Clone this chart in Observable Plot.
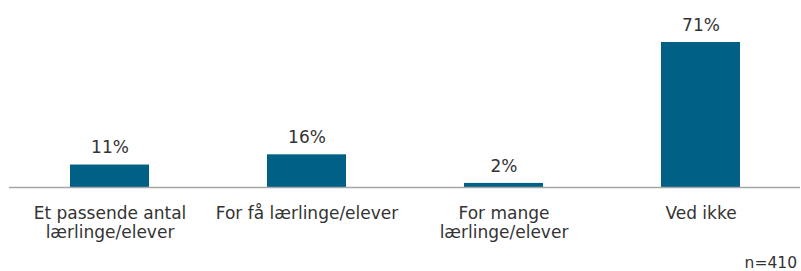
<!DOCTYPE html>
<html>
<head>
<meta charset="utf-8">
<script src="https://cdn.jsdelivr.net/npm/d3@7"></script>
<script src="https://cdn.jsdelivr.net/npm/@observablehq/plot@0.6"></script>
<style>
  html, body { margin: 0; padding: 0; background: #fff; }
  #wrap { position: relative; width: 801px; height: 271px; font-family: "DejaVu Sans", Verdana, sans-serif; }
  #caption { position: absolute; right: 4px; top: 254px; font-size: 15.5px; color: #333; }
</style>
</head>
<body>
<div id="wrap">
  <div id="chart"></div>
  <div id="caption">n=410</div>
</div>
<script>
const categories = ["Et passende antal lærlinge/elever", "For få lærlinge/elever", "For mange lærlinge/elever", "Ved ikke"];
const values = [11, 16, 2, 71];
const tickLabels = ["Et passende antal\nlærlinge/elever", "For få lærlinge/elever", "For mange\nlærlinge/elever", "Ved ikke"];

const data = categories.map((c, i) => ({category: c, value: values[i]}));
const labelOf = new Map(categories.map((c, i) => [c, tickLabels[i]]));

const chart = Plot.plot({
  width: 801,
  height: 248,
  marginLeft: 9,
  marginRight: 1,
  marginTop: 42,
  marginBottom: 61,
  style: { fontFamily: "DejaVu Sans, Verdana, sans-serif", fontSize: "17px", color: "#333", background: "#fff" },
  x: { domain: categories, paddingInner: 0.6, paddingOuter: 0.3, axis: null },
  y: { domain: [0, 71], axis: null },
  marks: [
    Plot.barY(data, { x: "category", y: "value", fill: "#006085" }),
    Plot.ruleY([0], { stroke: "#a6a6a6", strokeWidth: 1.5 }),
    Plot.text(data, { x: "category", y: "value", text: d => d.value + "%", dy: -17, fontSize: 17, fill: "#333" }),
    Plot.axisX({ label: null, tickSize: 0, tickPadding: 0, dy: 18, lineHeight: 1.12, fontSize: 17, fill: "#333", tickFormat: d => labelOf.get(d), textAnchor: "middle", frameAnchor: "bottom" })
  ]
});
document.getElementById("chart").appendChild(chart);
</script>
</body>
</html>
